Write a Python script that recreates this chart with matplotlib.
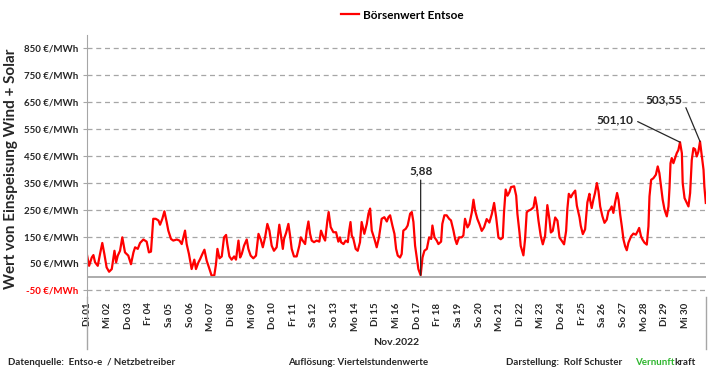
import matplotlib
matplotlib.use('Agg')
import matplotlib.pyplot as plt
from matplotlib import font_manager as fm
from matplotlib.lines import Line2D

# Schrift mit echtem Fettschnitt suchen (Calibri-Ersatz)
schrift = 'DejaVu Sans'
for fam in ['Lato', 'Roboto', 'Open Sans', 'Noto Sans']:
    try:
        pfad = fm.findfont(fm.FontProperties(family=fam, weight='bold'), fallback_to_default=False)
    except Exception:
        continue
    if 'bold' in pfad.lower() or 'black' in pfad.lower():
        schrift = fam
        break
plt.rcParams['font.family'] = [schrift, 'DejaVu Sans']
plt.rcParams['font.weight'] = 'bold'

# Zeitpunkt in Tagen ab 01.11.2022 00:00, Wert in €/MWh
tage = [
    0.00, 0.10, 0.23, 0.31, 0.39, 0.52, 0.63, 0.74, 0.84, 0.95, 1.07, 1.20, 1.33, 1.41,
    1.49, 1.60, 1.71, 1.84, 2.00, 2.13, 2.25, 2.33, 2.46, 2.57, 2.73, 2.89, 3.00, 3.10,
    3.21, 3.33, 3.46, 3.54, 3.65, 3.75, 3.86, 3.94, 4.07, 4.18, 4.35, 4.48, 4.59, 4.75,
    4.83, 4.94, 5.07, 5.20, 5.28, 5.40, 5.48, 5.59, 5.69, 5.80, 5.91, 6.04, 6.17,
    6.25, 6.32, 6.42, 6.53, 6.64, 6.74, 6.80, 6.90, 7.01, 7.13, 7.22, 7.34, 7.42, 7.50,
    7.61, 7.74, 7.82, 7.93, 8.06, 8.19, 8.31, 8.42, 8.52, 8.63, 8.74, 8.84, 8.95, 9.06,
    9.19, 9.32, 9.40, 9.49, 9.55, 9.65, 9.76, 9.84, 9.92, 10.03, 10.16, 10.29, 10.36,
    10.45, 10.57, 10.65, 10.73, 10.81, 10.89, 11.00, 11.13, 11.26, 11.34, 11.46, 11.54,
    11.65, 11.71, 11.81, 11.94, 12.07, 12.18, 12.26,
    12.31, 12.43, 12.54, 12.64, 12.70, 12.77, 12.83, 12.91, 13.02, 13.12, 13.23, 13.31,
    13.44, 13.56, 13.64, 13.72, 13.80, 13.93, 14.04, 14.15, 14.28, 14.41, 14.53, 14.61,
    14.69, 14.80, 14.90, 14.98, 15.06, 15.17, 15.25, 15.33, 15.45, 15.54, 15.66, 15.74,
    15.82, 15.90, 15.98, 16.06, 16.17, 16.26, 16.35, 16.47, 16.58, 16.68, 16.74, 16.84,
    16.95, 17.03, 17.16, 17.22, 17.32, 17.43, 17.55, 17.64, 17.76, 17.84, 17.92, 18.03,
    18.16, 18.24, 18.32,
    18.44, 18.53, 18.65, 18.73, 18.81, 18.92, 19.02, 19.13, 19.24, 19.37, 19.50, 19.62,
    19.73, 19.83, 19.94, 20.05, 20.15, 20.21, 20.29, 20.38, 20.47, 20.55, 20.70, 20.80,
    20.86, 20.96, 21.02, 21.15, 21.23, 21.31, 21.39, 21.51, 21.64, 21.72, 21.80, 21.88,
    21.99, 22.09, 22.20, 22.31, 22.41, 22.48, 22.57, 22.69, 22.80, 22.90, 23.01, 23.12,
    23.22, 23.28, 23.35, 23.45, 23.54, 23.66, 23.74, 23.87, 23.93, 24.03, 24.14, 24.25,
    24.35,
    24.38, 24.46, 24.54, 24.62, 24.71, 24.79, 24.87, 24.98, 25.08, 25.19, 25.27, 25.35,
    25.43, 25.51, 25.59, 25.69, 25.76, 25.84, 25.92, 26.00, 26.08, 26.16, 26.24, 26.37,
    26.48, 26.60, 26.69, 26.76, 26.85, 26.92, 27.02, 27.13, 27.21, 27.26, 27.34, 27.45,
    27.57, 27.66, 27.74, 27.82, 27.90, 27.99, 28.10, 28.18, 28.23, 28.28, 28.34, 28.42,
    28.50, 28.58, 28.66, 28.74, 28.83, 28.87, 28.96, 29.07, 29.15, 29.23, 29.31, 29.39,
    29.47, 29.55, 29.63, 29.71, 29.80, 29.88, 29.92, 29.99,
]
wert = [
    81, 41, 72, 81, 54, 41, 85, 126, 85, 35, 19, 29, 97, 54,
    79, 97, 147, 91, 79, 47, 91, 110, 104, 126, 139, 131, 91, 94,
    216, 216, 210, 194, 216, 244, 204, 172, 141, 135, 139, 135, 122, 172,
    122, 85, 29, 64, 29, 54, 66, 85, 101, 60, 35, 4, 6,
    47, 104, 69, 76, 147, 156, 122, 76, 64, 76, 64, 135, 72, 85,
    116, 139, 104, 79, 69, 79, 160, 139, 110, 147, 197, 172, 116, 97,
    110, 194, 154, 104, 141, 164, 197, 154, 104, 76, 76, 116, 147,
    135, 122, 172, 206, 160, 135, 129, 135, 131, 172, 147, 135,
    210, 241, 185, 166, 166, 131, 147,
    129, 122, 135, 129, 169, 204, 154, 141, 104, 97, 129, 204,
    160, 197, 235, 254, 172, 141, 110, 147, 216, 222, 206, 222,
    229, 191, 160, 104, 79, 72, 85, 172, 179, 191, 235, 241,
    204, 116, 72, 29, 5.88, 72, 97, 104, 147, 141, 191, 147,
    135, 122, 131, 197, 229, 229, 216, 210, 172, 141, 122, 147,
    147, 154, 216,
    184, 196, 240, 287, 246, 215, 196, 171, 184, 215, 202, 234,
    275, 221, 146, 140, 146, 240, 325, 302, 315, 334, 337, 302,
    234, 165, 115, 80, 140, 240, 246, 250, 259, 296, 262, 209,
    152, 121, 152, 267, 215, 165, 171, 221, 209, 146, 134, 121,
    171, 252, 309, 296, 309, 321, 265, 221, 190, 159, 177, 277,
    309,
    287, 256, 287, 312, 349, 318, 262, 225, 201, 213, 244, 250,
    262, 238, 275, 312, 287, 232, 188, 139, 114, 99, 127, 151,
    161, 157, 170, 182, 151, 139, 127, 120, 188, 299, 361, 367,
    380, 411, 386, 336, 287, 250, 225, 262, 330, 423, 442, 423,
    442, 460, 472, 501.10, 460, 349, 293, 275, 262, 312, 435, 479,
    475, 448, 466, 503.55, 448, 398, 336, 275,
]

wochentage = ['Di', 'Mi', 'Do', 'Fr', 'Sa', 'So', 'Mo']
x_labels = [f'{wochentage[i % 7]} {i + 1:02d}' for i in range(30)]
y_ticks = [-50, 50, 150, 250, 350, 450, 550, 650, 750, 850]
y_labels = [f'{v} €/MWh' for v in y_ticks]
markiert = [5.88, 501.10, 503.55]

grau = '#a6a6a6'
text_farbe = '#262626'

fig = plt.figure(figsize=(7.18, 3.70), dpi=100)
ax = fig.add_axes([0.1212, 0.1973, 0.8621, 0.7081])
ax.set_axisbelow(True)
ax.plot(tage, wert, color='#ff0000', lw=1.6, label='Börsenwert Entsoe')

ax.set_xlim(0, 30)
ax.set_ylim(-75, 900)
ax.set_yticks(y_ticks)
ax.set_yticklabels(y_labels, fontsize=7, color=text_farbe, fontweight='bold')
ax.get_yticklabels()[0].set_color('#ff0000')
ax.set_xticks(range(30))
ax.set_xticklabels(x_labels, rotation=90, fontsize=7, color=text_farbe, fontweight='bold')
ax.tick_params(axis='x', length=0, pad=4)
ax.tick_params(axis='y', length=3, color=grau, pad=3)
ax.grid(axis='y', color=grau, ls=(0, (4, 3)), lw=0.9)
ax.axhline(0, color=grau, lw=1.3)
for s in ['top', 'right', 'bottom']:
    ax.spines[s].set_visible(False)
ax.spines['left'].set_color(grau)
for xa in (0, 1):
    ax.add_line(Line2D([xa, xa], [0, -0.2], transform=ax.transAxes, color=grau,
                       lw=1, clip_on=False))

ax.set_ylabel('Wert von Einspeisung Wind + Solar', fontsize=11, color=text_farbe,
              fontweight='bold')
ax.yaxis.set_label_coords(-0.111, 0.49)

ax.legend(loc='center', bbox_to_anchor=(0.51, 1.076), frameon=False,
          prop=dict(size=8.5, weight='bold'), handlelength=1.5, handletextpad=0.35)

# Beschriftung der Extremwerte
pfeil = dict(arrowstyle='-', color=text_farbe, lw=0.9, shrinkA=1, shrinkB=0)
anno = dict(ha='center', va='center', fontsize=8.5, color=text_farbe, fontweight='bold')
i = wert.index(markiert[0])
ax.annotate('5,88', xy=(tage[i], wert[i]), xytext=(tage[i], 396), arrowprops=pfeil, **anno)
i = wert.index(markiert[1])
ax.annotate('501,10', xy=(tage[i], wert[i]), xytext=(25.6, 585),
            arrowprops=dict(pfeil, relpos=(1, 0.5)), **anno)
i = wert.index(markiert[2])
ax.annotate('503,55', xy=(tage[i], wert[i]), xytext=(27.97, 659),
            arrowprops=dict(pfeil, relpos=(1, 0.5)), **anno)

fig.text(0.552, 0.073, 'Nov.2022', ha='center', va='center', fontsize=7.5,
         color=text_farbe, fontweight='bold')
fuss = dict(fontsize=7, va='center', color=text_farbe, fontweight='bold')
fig.text(0.011, 0.019, 'Datenquelle:  Entso-e  / Netzbetreiber', **fuss)
fig.text(0.401, 0.019, 'Auflösung: Viertelstundenwerte', **fuss)
fig.text(0.705, 0.019, 'Darstellung:  Rolf Schuster', **fuss)
vt = fig.text(0.884, 0.019, 'Vernunft', fontsize=7, va='center', color='#2db52d',
              fontweight='bold')
fig.canvas.draw()
x1 = vt.get_window_extent().x1 / fig.bbox.width
fig.text(x1, 0.019, 'kraft', **fuss)

fig.savefig('out.png', dpi=100, facecolor='white')
